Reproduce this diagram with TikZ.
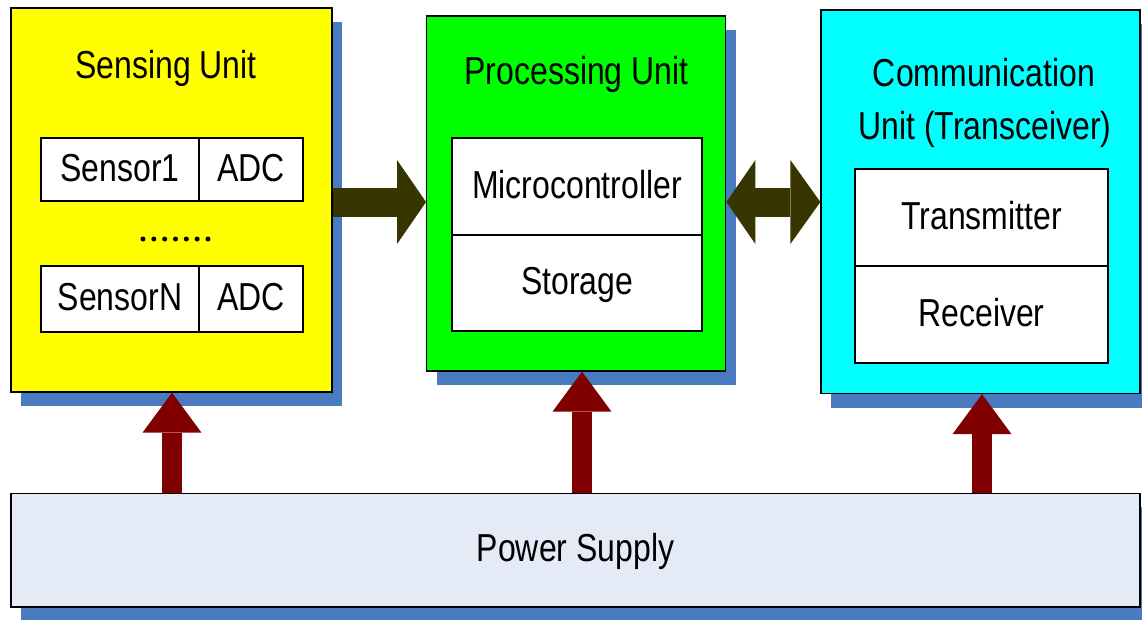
\documentclass[tikz,border=0pt]{standalone}
\usepackage{fontspec}
\setmainfont{Liberation Sans}[FakeStretch=0.82]
\usetikzlibrary{arrows.meta,shadows}

\definecolor{shadowblue}{HTML}{4A7BC1}
\definecolor{sensyellow}{HTML}{FFFF00}
\definecolor{procgreen}{HTML}{00FF00}
\definecolor{commcyan}{HTML}{00FFFF}
\definecolor{powerfill}{HTML}{E4EBF6}
\definecolor{flowolive}{HTML}{383500}
\definecolor{feedred}{HTML}{800000}

\tikzset{
  unit/.style={draw=black, line width=1.3pt, inner sep=0pt,
    general shadow={fill=shadowblue, shadow xshift=10pt, shadow yshift=-14pt}},
  cell/.style={draw=black, line width=1.3pt, fill=white, inner sep=0pt,
    text height=27pt, text depth=4pt},
  title/.style={anchor=base, inner sep=0pt},
  flow/.style={draw=flowolive, line width=29pt,
    -{Triangle[width=84pt,length=29pt,line width=0pt]}},
  flowboth/.style={draw=flowolive, line width=29pt,
    {Triangle[width=84pt,length=29pt,line width=0pt]}-{Triangle[width=84pt,length=30pt,line width=0pt]}},
  feed/.style={draw=feedred, line width=20pt,
    -{Triangle[width=59pt,length=40pt,line width=0pt]}},
}

\begin{document}
\begin{tikzpicture}[x=1pt, y=-1pt, font=\fontsize{39}{53.5}\selectfont]
  \useasboundingbox (0,0) rectangle (1142,619);
  \clip (0,0) rectangle (1142,619);
  \fill[white] (0,0) rectangle (1142,619);

  % power rail
  \node[unit, fill=powerfill, minimum width=1129pt, minimum height=113.7pt,
        text height=27pt, text depth=4pt] (power) at (575.5,550) {Power Supply};

  % the three units
  \node[unit, fill=sensyellow, minimum width=321pt, minimum height=384pt] (sense) at (171.5,200) {};
  \node[unit, fill=procgreen, minimum width=299pt, minimum height=355pt] (proc) at (576.2,193.5) {};
  \node[unit, fill=commcyan, minimum width=319pt, minimum height=383.5pt] (comm) at (980.5,201.75) {};

  % unit titles
  \node[title] (senseTitle) at (166,78) {Sensing Unit};
  \node[title] (procTitle) at (576.5,84.5) {Processing Unit};
  \node[title] (commTitleA) at (984,86) {Communication};
  \node[title] (commTitleB) at (985,139.5) {Unit (Transceiver)};

  % sensing unit contents
  \node[cell, minimum width=158pt, minimum height=63pt] (s1) at (120,169.5) {Sensor1};
  \node[cell, minimum width=104pt, minimum height=63pt] (a1) at (251,169.5) {ADC};
  \node[cell, minimum width=158pt, minimum height=66pt] (sN) at (120,299) {SensorN};
  \node[cell, minimum width=104pt, minimum height=66pt] (aN) at (251,299) {ADC};
  \foreach \i in {0,...,6}
    \fill (143+\i*10.83,239) circle (2.5pt);

  % processing unit contents
  \node[cell, minimum width=250pt, minimum height=97pt] (mcu) at (577,186.5) {Microcontroller};
  \node[cell, minimum width=250pt, minimum height=96pt] (store) at (577,283) {Storage};

  % communication unit contents
  \node[cell, minimum width=253pt, minimum height=97pt] (tx) at (981.5,217.5) {Transmitter};
  \node[cell, minimum width=253pt, minimum height=97pt] (rx) at (981.5,314.5) {Receiver};

  % data flow between units
  \coordinate (flowy) at (0,202);
  \draw[flow] (sense.east |- flowy) -- (proc.west |- flowy);
  \draw[flowboth] (proc.east |- flowy) -- (comm.west |- flowy);

  % power feeds
  \coordinate (feedS) at (172,0);
  \coordinate (feedP) at (582,0);
  \coordinate (feedC) at (982,0);
  \draw[feed] (power.north -| feedS) -- (sense.south -| feedS);
  \draw[feed] (power.north -| feedP) -- (proc.south -| feedP);
  \draw[feed] (power.north -| feedC) -- (comm.south -| feedC);
\end{tikzpicture}
\end{document}
